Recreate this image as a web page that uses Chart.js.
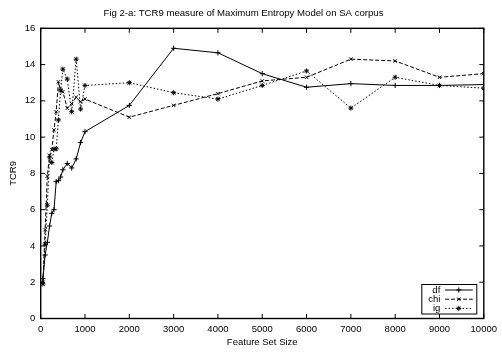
<!DOCTYPE html>
<html><head><meta charset="utf-8">
<script src="https://cdn.jsdelivr.net/npm/chart.js@4/dist/chart.umd.min.js"></script>
<style>html,body{margin:0;padding:0;background:#fff;}#wrap{width:502px;height:352px;position:relative;}</style>
</head><body><div id="wrap"><canvas id="c"></canvas></div>
<script>
const featureSizes = [50,100,150,200,250,300,350,400,450,500,600,700,800,900,1000,2000,3000,4000,5000,6000,7000,8000,9000,10000];
const dfValues  = [2.2,3.5,4.2,5.1,5.8,6.0,7.55,7.6,7.8,8.2,8.55,8.3,8.8,9.7,10.3,11.75,14.9,14.65,13.5,12.75,12.95,12.85,12.85,12.9];
const chiValues = [2.0,4.9,7.85,9.0,9.3,10.4,11.4,13.05,12.55,12.5,11.6,11.85,12.2,11.95,12.1,11.1,11.75,12.4,13.1,13.3,14.3,14.2,13.3,13.5];
const igValues  = [1.9,4.1,6.25,8.9,8.6,9.35,9.35,10.95,12.6,13.75,13.2,11.4,14.3,11.55,12.85,13.0,12.45,12.1,12.85,13.65,11.6,13.3,12.85,12.7];
const seriesNames = ['df','chi','ig'];
const xTickValues = [0,1000,2000,3000,4000,5000,6000,7000,8000,9000,10000];
const yTickValues = [0,2,4,6,8,10,12,14,16];
const titleText = 'Fig 2-a: TCR9 measure of Maximum Entropy Model on SA corpus';
const xTitle = 'Feature Set Size';
const yTitle = 'TCR9';

const FONT = 'Liberation Sans, Arial, Helvetica, sans-serif';
const styles = [
  {dash: [], point: 'cross', r: 2.6},
  {dash: [4,2], point: 'crossRot', r: 2.4},
  {dash: [1.5,2], point: 'star', r: 2.5}
];
const seriesValues = [dfValues, chiValues, igValues];

const datasets = seriesNames.map((name, i) => ({
  label: name,
  data: featureSizes.map((x, j) => ({x: x, y: seriesValues[i][j]})),
  borderColor: '#000',
  backgroundColor: '#000',
  borderWidth: 1,
  borderDash: styles[i].dash,
  pointStyle: styles[i].point,
  pointRadius: styles[i].r,
  pointBorderWidth: 1,
  pointBorderColor: '#000',
  fill: false,
  tension: 0
}));

const frame = {
  id: 'frame',
  afterDatasetsDraw(chart) {
    const ctx = chart.ctx, a = chart.chartArea;
    const xs = chart.scales.x, ys = chart.scales.y;
    ctx.save();
    ctx.strokeStyle = '#000';
    ctx.lineWidth = 1.4;
    ctx.setLineDash([]);
    ctx.strokeRect(a.left, a.top, a.right - a.left, a.bottom - a.top);
    ctx.lineWidth = 1;
    const L = 4.5;
    ctx.beginPath();
    xTickValues.forEach(v => {
      const px = xs.getPixelForValue(v);
      ctx.moveTo(px, a.bottom); ctx.lineTo(px, a.bottom - L);
      ctx.moveTo(px, a.top); ctx.lineTo(px, a.top + L);
    });
    yTickValues.forEach(v => {
      const py = ys.getPixelForValue(v);
      ctx.moveTo(a.left, py); ctx.lineTo(a.left + L, py);
      ctx.moveTo(a.right, py); ctx.lineTo(a.right - L, py);
    });
    ctx.stroke();
    // legend
    const bx1 = a.right - 62, bx2 = a.right - 7, by1 = a.bottom - 34, by2 = a.bottom - 4.5;
    ctx.fillStyle = '#fff';
    ctx.fillRect(bx1, by1, bx2 - bx1, by2 - by1);
    ctx.strokeRect(bx1, by1, bx2 - bx1, by2 - by1);
    ctx.font = '9.5px ' + FONT;
    ctx.textAlign = 'right';
    ctx.textBaseline = 'middle';
    ctx.fillStyle = '#000';
    seriesNames.forEach((name, i) => {
      const y = by1 + 5.5 + i * 9.2;
      ctx.fillText(name, bx1 + 18.5, y);
      ctx.setLineDash(styles[i].dash);
      ctx.beginPath();
      ctx.moveTo(bx1 + 23.3, y); ctx.lineTo(bx1 + 51, y);
      ctx.stroke();
      ctx.setLineDash([]);
      Chart.helpers.drawPoint(ctx, {pointStyle: styles[i].point, radius: styles[i].r, borderWidth: 1}, bx1 + 37, y);
    });
    ctx.restore();
  }
};

new Chart(document.getElementById('c'), {
  type: 'line',
  data: {datasets},
  options: {
    responsive: true,
    maintainAspectRatio: false,
    animation: false,
    layout: {padding: {left: 0, right: 15, top: 0, bottom: 0}},
    plugins: {
      legend: {display: false},
      tooltip: {enabled: false},
      title: {
        display: true, text: titleText, color: '#000',
        font: {family: FONT, size: 9.6, weight: 'normal'},
        padding: {top: 7.3, bottom: 9.5}
      }
    },
    scales: {
      x: {
        type: 'linear', min: 0, max: 10000,
        afterBuildTicks: s => { s.ticks = xTickValues.map(v => ({value: v})); },
        ticks: {color: '#000', font: {family: FONT, size: 9.5}, padding: 5, maxRotation: 0, autoSkip: false, callback: v => String(v)},
        grid: {display: false, drawTicks: false},
        border: {display: false},
        title: {display: true, text: xTitle, color: '#000', font: {family: FONT, size: 9.5}, padding: {top: 0, bottom: 3.6}},
        afterFit: s => { s.height = 33.5; }
      },
      y: {
        type: 'linear', min: 0, max: 16,
        afterBuildTicks: s => { s.ticks = yTickValues.map(v => ({value: v})); },
        ticks: {color: '#000', font: {family: FONT, size: 9.5}, padding: 5.5, callback: v => String(v)},
        grid: {display: false, drawTicks: false},
        border: {display: false},
        title: {display: true, text: yTitle, color: '#000', font: {family: FONT, size: 9.5}, padding: {top: 7.3, bottom: 0}},
        afterFit: s => { s.width = 40.7; }
      }
    }
  },
  plugins: [frame]
});
</script></body></html>
